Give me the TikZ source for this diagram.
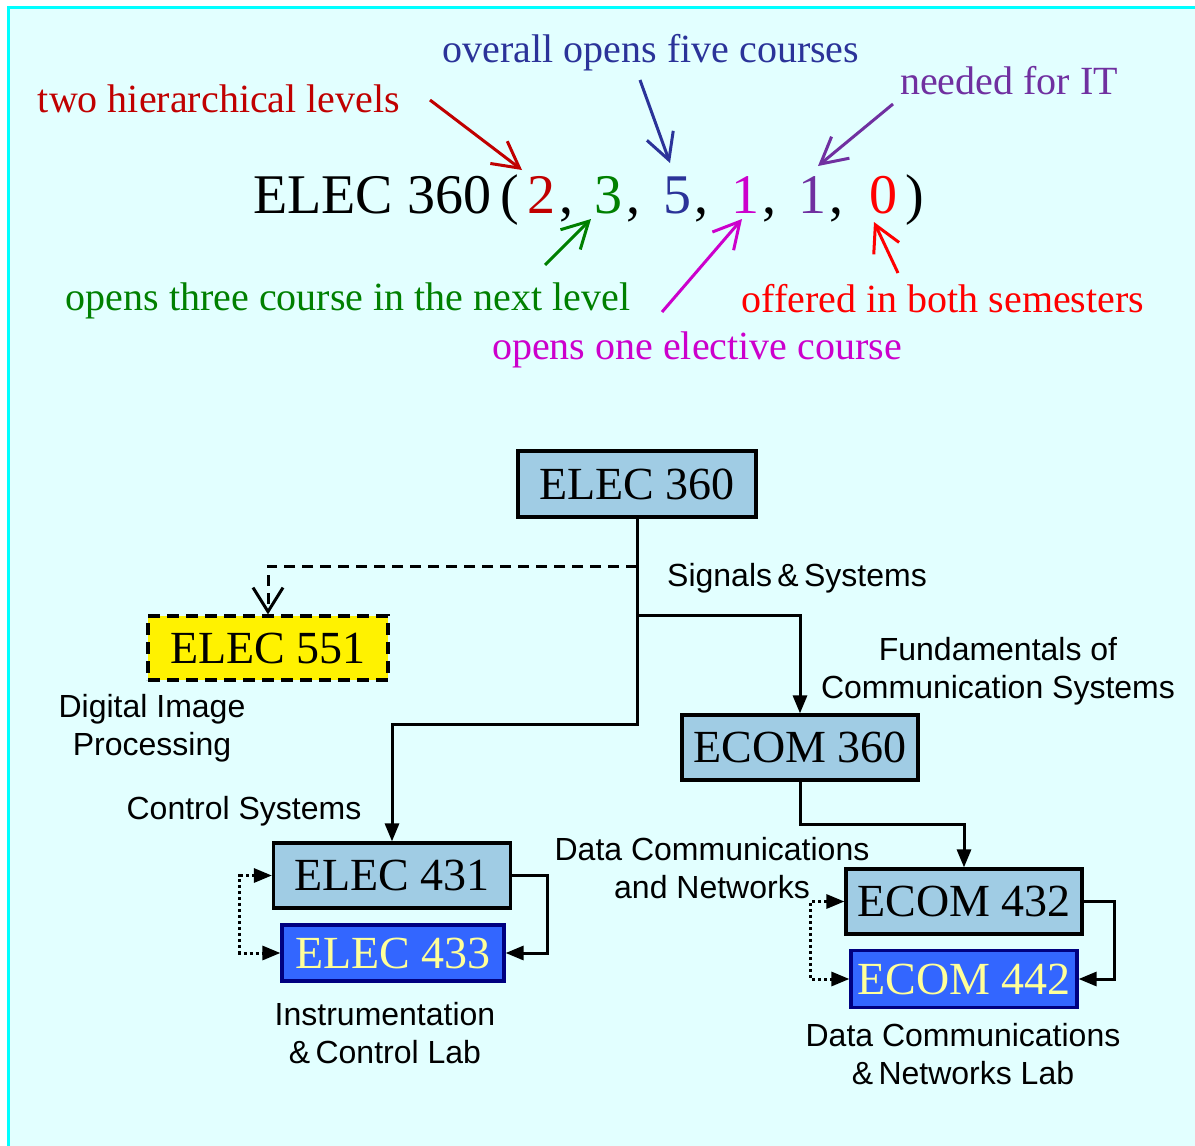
\documentclass[tikz,border=0pt]{standalone}
\usepackage{fontspec}
\setmainfont{Liberation Serif}
\setsansfont{Liberation Sans}
\usetikzlibrary{arrows.meta}
\definecolor{bgc}{HTML}{E2FFFF}
\definecolor{framec}{HTML}{00FFFF}
\definecolor{boxblue}{RGB}{160,204,228}
\definecolor{labblue}{HTML}{3366FF}
\definecolor{labtext}{HTML}{FFFF99}
\definecolor{navyb}{HTML}{000080}
\definecolor{dred}{HTML}{C00000}
\definecolor{dgreen}{HTML}{008000}
\definecolor{dnavy}{HTML}{2B3399}
\definecolor{magc}{HTML}{CC00CC}
\definecolor{purc}{HTML}{7030A0}
\definecolor{redc}{HTML}{FF0000}
\begin{document}
\begin{tikzpicture}[x=1pt,y=-1pt,
  course/.style={draw=black, line width=3.2pt, fill=boxblue, inner sep=0pt,
    font=\fontsize{46}{50}\selectfont},
  labcourse/.style={draw=navyb, line width=3.2pt, fill=labblue, inner sep=0pt,
    text=labtext, font=\fontsize{46}{50}\selectfont},
  conn/.style={line width=3pt, -{Triangle[length=18pt,width=14pt]}},
  dotconn/.style={line width=3pt, dash pattern=on 3pt off 3pt,
    {Triangle[length=18pt,width=14pt]}-{Triangle[length=18pt,width=14pt]}},
  ann/.style={font=\fontsize{40}{44}\selectfont},
  annarrow/.style={line width=3pt, -{Straight Barb[length=26pt,width=28pt]}},
  big/.style={font=\fontsize{56}{60}\selectfont, anchor=base, inner sep=0pt},
  lab/.style={font=\sffamily\fontsize{32}{38}\selectfont, align=center, inner sep=0pt}
]
\clip (0,0) rectangle (1195,1146);
\fill[white] (0,0) rectangle (1195,1146);
\draw[line width=3pt, draw=framec, fill=bgc] (8,7) rectangle (1210,1160);

% header formula
\node[big, anchor=base west] (t0) at (253,213) {ELEC 360};
\node[big] (tp) at (510,213) {(};
\node[big, text=dred] (d1) at (541,213) {2};
\node[big] (c1) at (566,213) {,};
\node[big, text=dgreen] (d2) at (608,213) {3};
\node[big] (c2) at (633,213) {,};
\node[big, text=dnavy] (d3) at (677,213) {5};
\node[big] (c3) at (701,213) {,};
\node[big, text=magc] (d4) at (745,213) {1};
\node[big] (c4) at (769,213) {,};
\node[big, text=purc] (d5) at (812,213) {1};
\node[big] (c5) at (836,213) {,};
\node[big, text=redc] (d6) at (883,213) {0};
\node[big] (tq) at (915,213) {)};

% annotations
\node[ann, text=dred] (a1) at (219,99) {two hierarchical levels};
\node[ann, text=dnavy] (a2) at (651,53) {overall opens five courses};
\node[ann, text=purc] (a3) at (1009,81) {needed for IT};
\node[ann, text=dgreen] (a4) at (348,301) {opens three course in the next level};
\node[ann, text=redc] (a5) at (943,299) {offered in both semesters};
\node[ann, text=magc] (a6) at (697,350) {opens one elective course};

\coordinate (r1s) at (430,100); \coordinate (r1e) at (522,170);
\coordinate (b1s) at (640,80);  \coordinate (b1e) at (670,163);
\coordinate (p1s) at (893,104); \coordinate (p1e) at (818,166);
\coordinate (g1s) at (545,265); \coordinate (g1e) at (591,219);
\coordinate (m1s) at (662,312); \coordinate (m1e) at (742,219);
\coordinate (o1s) at (898,273); \coordinate (o1e) at (874,222);
\draw[annarrow, dred] (r1s) -- (r1e);
\draw[annarrow, dnavy] (b1s) -- (b1e);
\draw[annarrow, purc] (p1s) -- (p1e);
\draw[annarrow, dgreen] (g1s) -- (g1e);
\draw[annarrow, magc] (m1s) -- (m1e);
\draw[annarrow, redc] (o1s) -- (o1e);

% course boxes
\node[course, minimum width=238pt, minimum height=66pt] (E360) at (637,484) {ELEC 360};
\node[course, fill=yellow, dash pattern=on 12pt off 7pt, minimum width=240pt, minimum height=64pt] (E551) at (268,648) {ELEC 551};
\node[course, minimum width=236pt, minimum height=65pt] (C360) at (800,747.5) {ECOM 360};
\node[course, minimum width=237pt, minimum height=65pt] (E431) at (392,875.5) {ELEC 431};
\node[labcourse, minimum width=222pt, minimum height=56pt] (E433) at (393,953) {ELEC 433};
\node[course, minimum width=236pt, minimum height=65pt] (C432) at (964,901.5) {ECOM 432};
\node[labcourse, minimum width=226pt, minimum height=57pt] (C442) at (964,979) {ECOM 442};

% labels
\node[lab] (l551) at (152,728) {Digital Image\\Processing};
\node[lab, anchor=west] (lss) at (667,578) {Signals\,\&\,Systems};
\node[lab] (lfc) at (998,671) {Fundamentals of\\Communication Systems};
\node[lab] (lcs) at (244,811) {Control Systems};
\node[lab] (ldc) at (712,868) {Data Communications\\and Networks};
\node[lab] (lic) at (385,1033) {Instrumentation\\\&\,Control Lab};
\node[lab] (ldl) at (963,1054) {Data Communications\\\&\,Networks Lab};

% connectors
\coordinate (j1) at (637,724);
\coordinate (j2) at (637,615);
\coordinate (j3) at (637,566);
\draw[conn] (E360.south) -- (j1) -| (E431.north);
\draw[conn] (E360.south) -- (j2) -| (C360.north);
\draw[line width=3pt, dash pattern=on 11pt off 7pt, -{Straight Barb[length=24pt,width=30pt]}] (j3) -| (E551.north);
\draw[conn] (C360.south) -- ++(0,43) -| (C432.north);
\draw[conn] (E431.east) -- ++(35,0) |- (E433.east);
\draw[dotconn] (E431.west) -- ++(-32,0) |- (E433.west);
\draw[conn] (C432.east) -- ++(31,0) |- (C442.east);
\draw[dotconn] (C432.west) -- ++(-34,0) |- (C442.west);
\end{tikzpicture}
\end{document}
